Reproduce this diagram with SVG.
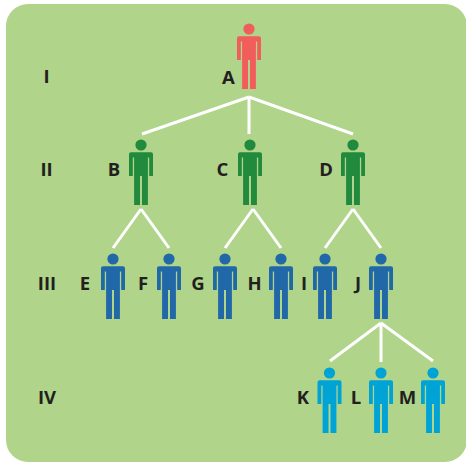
<svg xmlns="http://www.w3.org/2000/svg" width="466" height="463" viewBox="0 0 466 463">
<style>
.lbl{font-family:"Open Sans","Noto Sans","Liberation Sans",sans-serif;font-weight:700;font-size:18.5px;fill:#231f20;text-anchor:middle}
.conn{stroke:#fff;stroke-width:3;fill:none;stroke-linecap:butt}
.red{fill:#f15d5a}.green{fill:#218a3c}.blue{fill:#2068a8}.cyan{fill:#00a3d6}
</style>
<defs>
<g id="person">
<circle cx="0" cy="-56" r="5.600"/>
<path d="M-10-48.800H10Q12-48.800 12-46.800V-25H8.200V-43.500H6.900V4H1V-25H-1V4H-6.900V-43.500H-8.200V-25H-12V-46.800Q-12-48.800-10-48.800Z"/>
</g>
</defs>
<rect x="6" y="4" width="461" height="458" rx="22" ry="22" fill="#afd48a"/>
<g id="connectors" class="conn">
<path d="M249 97L142 134M249 97V134M249 97L353 134"/>
<path d="M141 209L113 248M141 209L169 248"/>
<path d="M253 209L225 248M253 209L281 248"/>
<path d="M353 209L325 248M353 209L381 248"/>
<path d="M381 323L330 361M381 323V362M381 323L433 361"/>
</g>
<g id="level-I"><text class="lbl" x="46.500" y="83">I</text></g>
<g id="level-II"><text class="lbl" x="46.500" y="175.500">II</text></g>
<g id="level-III"><text class="lbl" x="47" y="289.500">III</text></g>
<g id="level-IV"><text class="lbl" x="47" y="403.500">IV</text></g>
<g id="node-A"><use href="#person" x="249" y="85" class="red"/><text class="lbl" x="228.500" y="84">A</text></g>
<g id="node-B"><use href="#person" x="141" y="201" class="green"/><text class="lbl" x="114" y="175.500">B</text></g>
<g id="node-C"><use href="#person" x="250" y="201" class="green"/><text class="lbl" x="222.500" y="175.500">C</text></g>
<g id="node-D"><use href="#person" x="353" y="201" class="green"/><text class="lbl" x="326" y="175.500">D</text></g>
<g id="node-E"><use href="#person" x="113" y="315" class="blue"/><text class="lbl" x="85" y="289.500">E</text></g>
<g id="node-F"><use href="#person" x="169" y="315" class="blue"/><text class="lbl" x="143" y="289.500">F</text></g>
<g id="node-G"><use href="#person" x="225" y="315" class="blue"/><text class="lbl" x="198" y="289.500">G</text></g>
<g id="node-H"><use href="#person" x="281" y="315" class="blue"/><text class="lbl" x="254.500" y="289.500">H</text></g>
<g id="node-I"><use href="#person" x="325" y="315" class="blue"/><text class="lbl" x="304" y="289.500">I</text></g>
<g id="node-J"><use href="#person" x="381" y="315" class="blue"/><text class="lbl" x="358" y="289.500">J</text></g>
<g id="node-K"><use href="#person" x="329.500" y="429" class="cyan"/><text class="lbl" x="303" y="403.500">K</text></g>
<g id="node-L"><use href="#person" x="381" y="429" class="cyan"/><text class="lbl" x="356" y="403.500">L</text></g>
<g id="node-M"><use href="#person" x="433" y="429" class="cyan"/><text class="lbl" x="407.500" y="403.500">M</text></g>
</svg>
